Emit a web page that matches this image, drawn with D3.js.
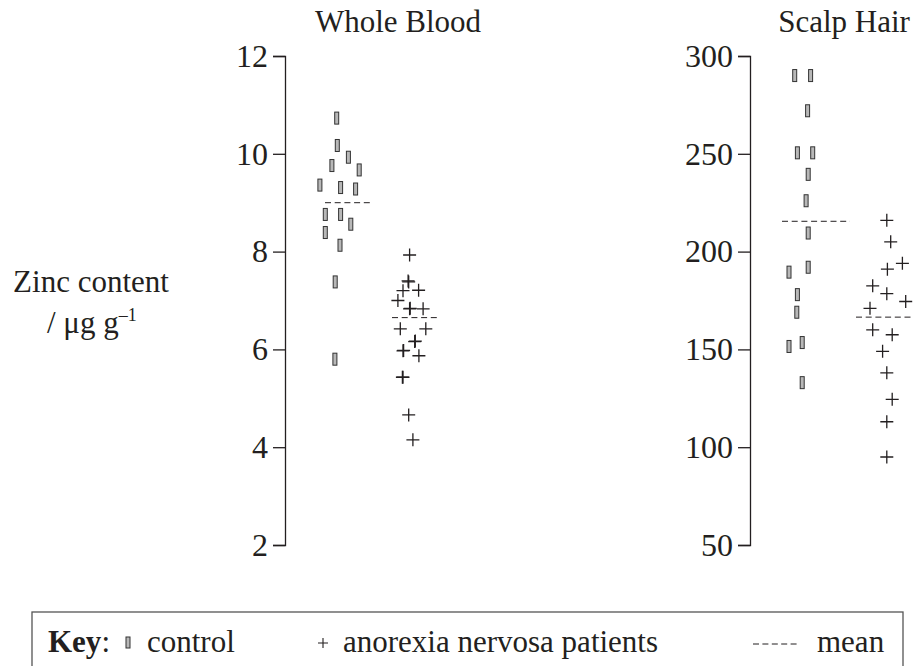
<!DOCTYPE html>
<html>
  <head>
    <meta charset="utf-8">
    <style>
      body { margin: 0; background: #fff; }
      svg text { font-family: "Liberation Serif", "Times New Roman", serif; fill: #231f20; }
    </style>
  </head>
  <body>
    <div id="chart"></div>
    <script src="https://cdn.jsdelivr.net/npm/d3@7/dist/d3.min.js"></script>
    <script>
      // zinc content; jitter = sideways offset of each mark inside its strip
      const bloodControl = [10.73, 10.17, 9.93, 9.76, 9.67, 9.36, 9.31, 9.28, 8.76, 8.76, 8.56, 8.39, 8.13, 7.38, 5.80];
      const bloodControlJitter = [-0.41, -0.39, -0.02, -0.57, 0.34, -0.97, -0.28, 0.22, -0.79, -0.28, 0.06, -0.79, -0.30, -0.46, -0.47];
      const bloodPatients = [7.93, 7.40, 7.38, 7.20, 7.21, 7.00, 6.83, 6.84, 6.83, 6.42, 6.42, 6.16, 6.17, 5.97, 5.98, 5.87, 5.43, 5.43, 4.66, 4.15];
      const bloodPatientsJitter = [-0.18, -0.23, -0.21, -0.40, 0.12, -0.57, -0.18, -0.16, 0.27, -0.49, 0.36, -0.01, 0.01, -0.40, -0.38, 0.13, -0.42, -0.40, -0.21, -0.07];
      const hairControl = [290, 290, 272, 250.5, 250.5, 239.5, 226, 209.5, 189.5, 192, 178, 169, 151.5, 153.5, 133];
      const hairControlJitter = [-0.71, -0.18, -0.28, -0.62, -0.11, -0.26, -0.33, -0.26, -0.90, -0.26, -0.62, -0.64, -0.90, -0.46, -0.46];
      const hairPatients = [216, 205, 191, 194, 182.5, 178.5, 174.5, 171, 160, 157.5, 149, 138, 124.5, 113, 95];
      const hairPatientsJitter = [0.06, 0.19, 0.08, 0.58, -0.41, 0.06, 0.69, -0.50, -0.41, 0.24, -0.08, 0.06, 0.24, 0.06, 0.06];

      const groups = ["control", "patients"];
      const bloodMeans = [9.0, 6.65];
      const hairMeans = [215.5, 166.5];
      const bloodTicks = [2, 4, 6, 8, 10, 12];
      const hairTicks = [50, 100, 150, 200, 250, 300];

      const width = 914;
      const height = 666;
      const ink = "#231f20";
      const serif = "'Liberation Serif', 'Times New Roman', serif";

      const svg = d3.select("#chart")
        .append("svg")
        .attr("width", width)
        .attr("height", height);

      const jitter = d3.scaleLinear().domain([-1, 1]).range([-30, 30]);
      const plus = "M-6.5,0H6.5M0,-6.5V6.5";

      function label(x, y, txt, size) {
        return svg.append("text")
          .attr("x", x)
          .attr("y", y)
          .style("font-family", serif)
          .style("font-size", (size || 31) + "px")
          .text(txt);
      }

      const panels = [
        { title: "Whole Blood", titleX: 398, axisX: 285, domain: [2, 12], ticks: bloodTicks,
          band: [316, 448], half: [24, 23], means: bloodMeans,
          sets: [[bloodControl, bloodControlJitter], [bloodPatients, bloodPatientsJitter]] },
        { title: "Scalp Hair", titleX: 844, axisX: 750, domain: [50, 300], ticks: hairTicks,
          band: [781.5, 919.5], half: [34, 29], means: hairMeans,
          sets: [[hairControl, hairControlJitter], [hairPatients, hairPatientsJitter]] }
      ];

      panels.forEach(p => {
        const y = d3.scaleLinear().domain(p.domain).range([545, 56]);
        const x = d3.scaleBand().domain(groups).range(p.band);
        const cx = g => x(g) + x.bandwidth() / 2;

        label(p.titleX, 32, p.title, 31).attr("text-anchor", "middle");

        const axis = svg.append("g")
          .attr("transform", `translate(${p.axisX},0)`)
          .call(d3.axisLeft(y).tickValues(p.ticks).tickSize(12).tickSizeOuter(12).tickPadding(5));
        axis.selectAll("path, line").attr("stroke", ink).attr("stroke-width", 1.3);
        axis.selectAll("text")
          .attr("fill", ink)
          .style("font-family", serif)
          .style("font-size", "32px");

        // means
        svg.selectAll(null)
          .data(groups)
          .enter()
          .append("line")
          .attr("x1", (g, i) => cx(g) - p.half[i])
          .attr("x2", (g, i) => cx(g) + p.half[i])
          .attr("y1", (g, i) => y(p.means[i]))
          .attr("y2", (g, i) => y(p.means[i]))
          .attr("stroke", ink)
          .attr("stroke-width", 1)
          .attr("stroke-dasharray", "6,3.7");

        // control marks
        const [cv, cj] = p.sets[0];
        svg.selectAll(null)
          .data(cv)
          .enter()
          .append("rect")
          .attr("x", (d, i) => cx("control") + jitter(cj[i]) - 2)
          .attr("y", d => y(d) - 6)
          .attr("width", 4)
          .attr("height", 12)
          .attr("fill", "#b8b8b8")
          .attr("stroke", "#333")
          .attr("stroke-width", 1);

        // patient marks
        const [pv, pj] = p.sets[1];
        svg.selectAll(null)
          .data(pv)
          .enter()
          .append("path")
          .attr("d", plus)
          .attr("transform", (d, i) => `translate(${cx("patients") + jitter(pj[i])},${y(d)})`)
          .attr("fill", "none")
          .attr("stroke", ink)
          .attr("stroke-width", 1.3);
      });

      // y label
      label(91, 292, "Zinc content", 31).attr("text-anchor", "middle");
      const unit = label(47, 333, "", 31);
      unit.append("tspan").text("/ μg g");
      unit.append("tspan").attr("dy", -12).style("font-size", "18px").text("–1");

      // key
      svg.append("rect")
        .attr("x", 32)
        .attr("y", 612)
        .attr("width", 871)
        .attr("height", 80)
        .attr("fill", "none")
        .attr("stroke", "#555")
        .attr("stroke-width", 1.3);

      const key = label(48, 652, "", 31);
      key.append("tspan").style("font-weight", "bold").text("Key");
      key.append("tspan").text(":");

      svg.append("rect")
        .attr("x", 126)
        .attr("y", 637)
        .attr("width", 4)
        .attr("height", 11)
        .attr("fill", "#b8b8b8")
        .attr("stroke", "#333")
        .attr("stroke-width", 1);
      label(147, 652, "control", 31);

      svg.append("path")
        .attr("d", "M-5,0H5M0,-5V5")
        .attr("transform", "translate(323,643)")
        .attr("fill", "none")
        .attr("stroke", ink)
        .attr("stroke-width", 1.1);
      label(343, 652, "anorexia nervosa patients", 31);

      svg.append("line")
        .attr("x1", 753).attr("x2", 800)
        .attr("y1", 644).attr("y2", 644)
        .attr("stroke", ink)
        .attr("stroke-width", 1)
        .attr("stroke-dasharray", "6,3.4");
      label(817, 652, "mean", 31);
    </script>
  </body>
</html>
